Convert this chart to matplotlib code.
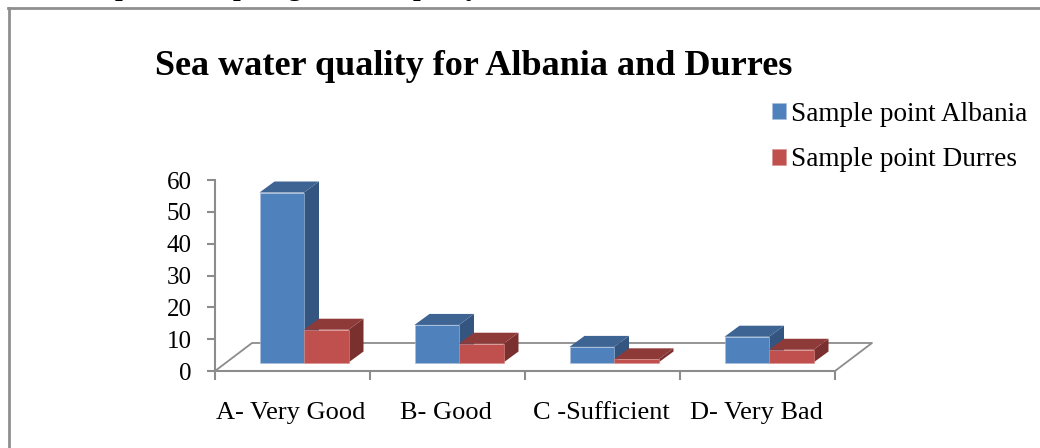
import matplotlib
matplotlib.use('Agg')
import matplotlib.pyplot as plt
from matplotlib.lines import Line2D
from matplotlib.patches import Polygon

plt.rcParams['font.family'] = ['Liberation Serif', 'DejaVu Serif']

title = 'Sea water quality for Albania and Durres'
categories = ['A- Very Good', 'B- Good', 'C -Sufficient', 'D- Very Bad']
albania = [53.4, 11.8, 4.9, 8.1]
durres = [10.3, 5.9, 1.0, 4.0]
yticks = [0, 10, 20, 30, 40, 50, 60]

W, H = 1040, 448
fig = plt.figure(figsize=(W / 100, H / 100), dpi=100, facecolor='white')
ax = fig.add_axes([215 / W, 1 - 371 / H, 620 / W, 191 / H])
ax.set_xlim(0, len(categories))
ax.set_ylim(0, 60)
ax.patch.set_visible(False)

grey = '#8c8c8c'
# sizes of the fake 3d, in data units
bar_w = 44.5 / 155
shift = 11.5 / 155
base = 2.67
dx = 15 / 155
dy = 11 / 3.183
floor_dx = 37 / 155
floor_dy = 28 / 3.183


def bar3d(x, vals, front, side, top, label, z):
    ax.bar(x, vals, bar_w, bottom=base, align='edge', color=front,
           edgecolor='#a9c0dc' if label.endswith('Albania') else '#d98f8d',
           linewidth=0.4, label=label, zorder=z + 1, clip_on=False)
    for xi, v in zip(x, vals):
        t = base + v
        ax.add_patch(Polygon([(xi + bar_w, base), (xi + bar_w + dx, base + dy),
                              (xi + bar_w + dx, t + dy), (xi + bar_w, t)],
                             fc=side, ec='none', zorder=z, clip_on=False))
        ax.add_patch(Polygon([(xi, t), (xi + dx, t + dy), (xi + bar_w + dx, t + dy),
                              (xi + bar_w, t)],
                             fc=top, ec='none', zorder=z, clip_on=False))


# floor of the chart
n = len(categories)
ax.plot([0, floor_dx, n + floor_dx, n], [0, floor_dy, floor_dy, 0],
        color=grey, lw=1.3, zorder=1, clip_on=False)

xs = [i + 0.5 + shift for i in range(n)]
bar3d([x - bar_w for x in xs], albania, '#4f81bd', '#34557f', '#3e6493',
      'Sample point Albania', 2)
bar3d(xs, durres, '#c0504d', '#7a302e', '#8e3a38', 'Sample point Durres', 4)

for s in ['top', 'right']:
    ax.spines[s].set_visible(False)
for s in ['left', 'bottom']:
    ax.spines[s].set_color(grey)
    ax.spines[s].set_linewidth(1.5)
    ax.spines[s].set_zorder(1)

ax.set_yticks(yticks)
ax.set_xticks(range(n + 1))
ax.set_xticklabels([])
ax.set_xticks([i + 0.5 - 0.01 for i in range(n)], categories, minor=True)
ax.tick_params(axis='y', length=5.8, width=1.5, color=grey, pad=11, labelsize=18)
ax.tick_params(axis='x', which='major', length=6.5, width=1.5, color=grey)
ax.tick_params(axis='x', which='minor', length=0, pad=22, labelsize=19)

fig.text(473.5 / W, 1 - 75 / H, title, fontsize=26, fontweight='bold',
         ha='center', va='baseline')

ax.legend(loc='upper left', bbox_to_anchor=(772 / W, 1 - 102 / H),
          bbox_transform=fig.transFigure, frameon=False, fontsize=19.6,
          handlelength=0.52, handleheight=0.52, handletextpad=0.19,
          labelspacing=0.75, borderpad=0, borderaxespad=0)

# outer border, and the line of text above it that the crop cut off
fig.add_artist(Line2D([8 / W, 1], [1 - 8.5 / H, 1 - 8.5 / H], color='#8f8f8f', lw=2))
fig.add_artist(Line2D([9 / W, 9 / W], [0, 1 - 8 / H], color='#8f8f8f', lw=2))
for cut_x, cut_ch in zip([122, 240, 294, 420, 473], 'ppgpy'):
    fig.text(cut_x / W, 1 + 5 / H, cut_ch, fontsize=20, fontweight='bold',
             ha='center', va='baseline')

fig.savefig('out.png', dpi=100)
